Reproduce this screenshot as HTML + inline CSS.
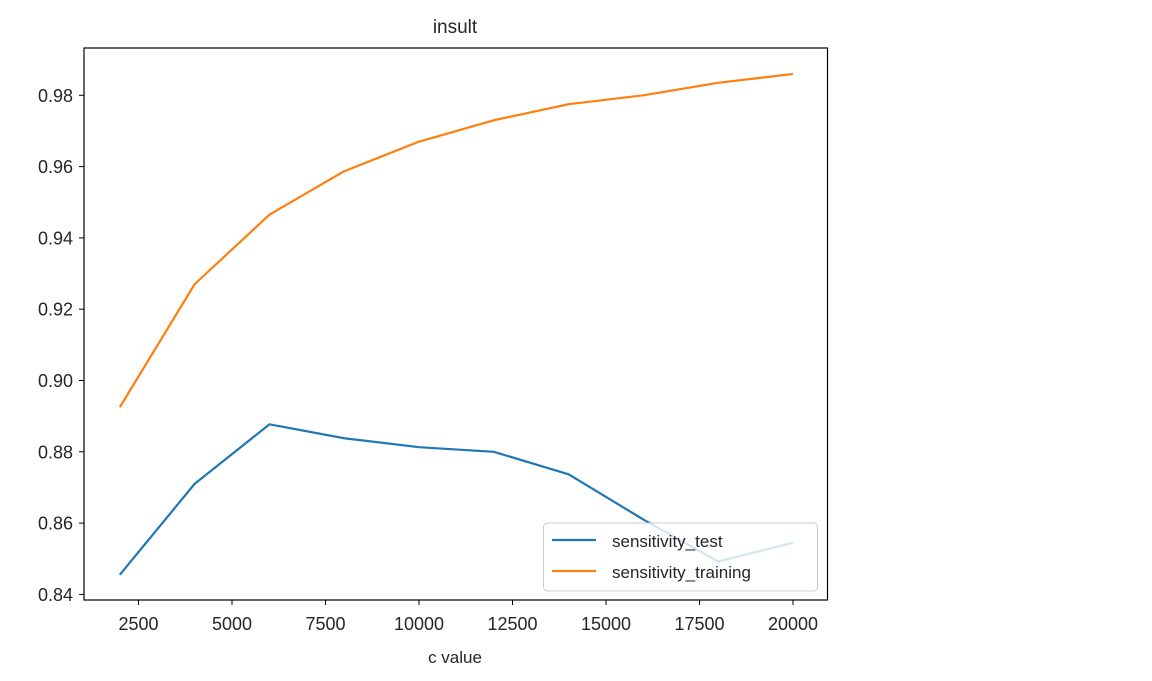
<!DOCTYPE html>
<html><head><meta charset="utf-8"><style>
body{margin:0;background:#fff;}
svg text{font-family:"Liberation Sans",sans-serif;fill:#262626;}
</style></head><body>
<svg id="chart" width="1152" height="676" xmlns="http://www.w3.org/2000/svg">
<text x="455" y="33" font-size="19" text-anchor="middle">insult</text>
<g id="plot"></g>
<rect x="84" y="48" width="743.5" height="552" fill="none" stroke="#000" stroke-width="1.2"/>
<text x="455" y="663" font-size="17" text-anchor="middle">c value</text>
<g>
<rect x="543.5" y="523" width="274" height="68" rx="4" fill="#fff" fill-opacity="0.8" stroke="#ccc"/>
<line x1="552" y1="540" x2="596" y2="540" stroke="#1f77b4" stroke-width="2.2"/>
<text x="612" y="547" font-size="17">sensitivity_test</text>
<line x1="552" y1="571" x2="596" y2="571" stroke="#ff7f0e" stroke-width="2.2"/>
<text x="612" y="578" font-size="17">sensitivity_training</text>
</g>
</svg>
<script>
const cValues=[2000,4000,6000,8000,10000,12000,14000,16000,18000,20000];
const testValues=[0.8455,0.871,0.8877,0.8838,0.8813,0.880,0.8737,0.861,0.8492,0.8545];
const trainValues=[0.8925,0.927,0.9465,0.9587,0.967,0.973,0.9775,0.980,0.9835,0.986];
const xTicks=[2500,5000,7500,10000,12500,15000,17500,20000];
const yTicks=[0.84,0.86,0.88,0.90,0.92,0.94,0.96,0.98];
const NS="http://www.w3.org/2000/svg";
function xs(v){return 119.8+(v-2000)*(793-119.8)/18000;}
function ys(v){return 95.3+(0.98-v)*3565;}
const g=document.getElementById('plot');
function mk(t,a){const e=document.createElementNS(NS,t);for(const k in a)e.setAttribute(k,a[k]);return e;}
xTicks.forEach(t=>{
 const l=mk('line',{x1:xs(t),x2:xs(t),y1:600,y2:605,stroke:'#000'});
 
 
 g.appendChild(l);
 const tx=mk('text',{x:xs(t),y:630,'font-size':18,'text-anchor':'middle'});
 
 
 tx.textContent=t;g.appendChild(tx);
});
yTicks.forEach(t=>{
 const l=mk('line',{x1:79,x2:84,y1:ys(t),y2:ys(t),stroke:'#000'});
 
 
 g.appendChild(l);
 const tx=mk('text',{x:73,y:ys(t)+6.5,'font-size':18,'text-anchor':'end'});
 
 
 tx.textContent=t.toFixed(2);g.appendChild(tx);
});
function line(vals,color,name){
 const p=mk('polyline',{points:vals.map((v,i)=>xs(cValues[i])+','+ys(v)).join(' '),fill:'none',stroke:color,'stroke-width':2.2,'stroke-linejoin':'round'});
 
 
 g.appendChild(p);
}
line(testValues,'#1f77b4','sensitivity-test-line');
line(trainValues,'#ff7f0e','sensitivity-training-line');
</script>
</body></html>
